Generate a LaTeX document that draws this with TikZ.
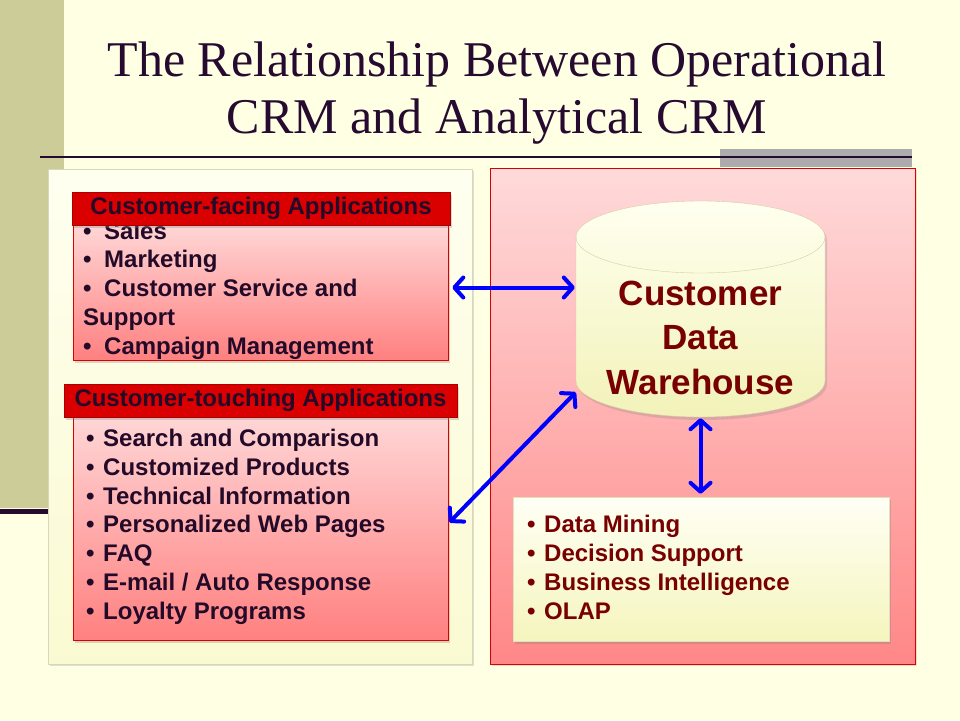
\documentclass[tikz,border=0pt]{standalone}
\usepackage{fontspec}
\setmainfont{Liberation Sans}
\newfontfamily\titlefont{Liberation Serif}
\usetikzlibrary{arrows.meta,shadows,calc}

\definecolor{slidebg}{RGB}{255,255,228}
\definecolor{bandgray}{RGB}{204,204,153}
\definecolor{titleink}{RGB}{38,10,48}
\definecolor{listink}{RGB}{35,10,40}
\definecolor{barred}{RGB}{218,0,0}
\definecolor{barline}{RGB}{170,0,0}
\definecolor{darkred}{RGB}{120,0,0}
\definecolor{arrowblue}{RGB}{0,0,255}
\definecolor{pinktop}{RGB}{255,214,214}
\definecolor{pinkbot}{RGB}{255,128,128}
\definecolor{paneltop}{RGB}{255,218,218}
\definecolor{panelbot}{RGB}{255,135,135}
\definecolor{creamtop}{RGB}{255,255,240}
\definecolor{creambot}{RGB}{250,250,210}
\definecolor{creamline}{RGB}{215,215,190}
\definecolor{cyltop}{RGB}{255,255,240}
\definecolor{cylbot}{RGB}{242,242,185}
\definecolor{cylline}{RGB}{215,205,165}
\definecolor{minetop}{RGB}{255,255,245}
\definecolor{minebot}{RGB}{245,245,190}
\definecolor{mineline}{RGB}{225,225,190}

\newcommand{\itm}{\makebox[17pt][l]{\textbullet}}
\newcommand{\itmw}{\makebox[21pt][l]{\textbullet}}

\begin{document}
\begin{tikzpicture}[x=1pt,y=-1pt,
  panel/.style={inner sep=0pt, minimum width=424pt, minimum height=495pt,
    drop shadow={opacity=0.25,shadow xshift=2pt,shadow yshift=-2pt}},
  body/.style={inner sep=0pt, minimum width=375pt, draw=barred, line width=0.6pt,
    top color=pinktop, bottom color=pinkbot,
    drop shadow={opacity=0.3,shadow xshift=2pt,shadow yshift=-3pt}},
  bar/.style={inner sep=0pt, minimum height=33pt, fill=barred, draw=barline,
    text=listink, font=\bfseries\fontsize{24}{28}\selectfont,
    drop shadow={opacity=0.3,shadow xshift=2pt,shadow yshift=-3pt}},
  items/.style={anchor=base west, align=left, inner sep=0pt, text=listink,
    font=\bfseries\fontsize{24}{28.7}\selectfont},
  link/.style={draw=arrowblue, line width=4pt, line join=round,
    {Straight Barb[length=9pt,width=20pt,round]}-{Straight Barb[length=9pt,width=20pt,round]}}
]
\useasboundingbox (0,0) rectangle (960,720);
\fill[slidebg] (0,0) rectangle (960,720);

% left band and title
\fill[bandgray] (0,0) rectangle (64,508);
\draw[titleink, line width=4.5pt] (0,511.5) -- (48,511.5);
\node[anchor=base, align=center, text=titleink, inner sep=0pt,
  font=\titlefont\fontsize{50}{57}\selectfont] (title) at (497,133)
  {The Relationship Between Operational\\CRM and Analytical CRM};
\fill[gray!65] (720,149) rectangle (912,167);
\draw[titleink, line width=2.5pt] (40,157) -- (912,157);

% the two panels
\node[panel, draw=creamline, top color=creamtop, bottom color=creambot] (apps) at (260,416.5) {};
\node[panel, minimum width=425pt, minimum height=496pt, draw=barred,
  top color=paneltop, bottom color=panelbot] (analytic) at (702.5,416) {};

% customer-facing
\node[body, minimum height=135pt] (facebody) at (260.5,292.5) {};
\node[items] (facelist) at (83,354)
  {\itmw Sales\\\itmw Marketing\\\itmw Customer Service and\\Support\\\itmw Campaign Management};
\node[bar, minimum width=378pt] (facebar) at (261,208.5) {Customer-facing Applications};

% customer-touching
\node[body, minimum height=223pt] (touchbody) at (260.5,528.5) {};
\node[items] (touchlist) at (86,619)
  {\itm Search and Comparison\\\itm Customized Products\\\itm Technical Information\\
   \itm Personalized Web Pages\\\itm FAQ\\\itm E-mail / Auto Response\\\itm Loyalty Programs};
\node[bar, minimum width=393pt] (touchbar) at (260.5,400.5) {Customer-touching Applications};

% warehouse
\node[inner sep=0pt, minimum width=249pt, minimum height=216pt] (dwh) at (700.5,309) {};
\draw[draw=cylline, top color=cyltop, bottom color=cylbot,
  drop shadow={opacity=0.25,shadow xshift=2pt,shadow yshift=-3pt}]
  (576,237) -- (576,381) arc (180:0:124.5 and 36) -- (825,237) arc (0:-180:124.5 and 36) -- cycle;
\draw[cylline] (576,237) arc (180:0:124.5 and 36);
\node[align=center, text=darkred, font=\bfseries\fontsize{35}{44.5}\selectfont] (dw) at (700.5,337.5)
  {Customer\\Data\\Warehouse};

% analysis box
\node[inner sep=0pt, minimum width=376pt, minimum height=144pt, draw=mineline,
  top color=minetop, bottom color=minebot,
  drop shadow={opacity=0.3,shadow xshift=2pt,shadow yshift=-3pt}] (minebox) at (701,569) {};
\node[items, text=darkred] (minelist) at (527,619)
  {\itm Data Mining\\\itm Decision Support\\\itm Business Intelligence\\\itm OLAP};

% arrows
\draw[link] ($(facebody.east)+(4,-5)$) -- ($(facebody.east -| dwh.west)+(-1,-5)$);
\draw[link] ($(touchbody.east)+(1,-6)$) -- ($(dwh.south west)+(0,-25)$);
\draw[link] ($(dwh.south)+(0,1)$) -- ($(dwh.south |- minebox.north)+(0,-3)$);
\end{tikzpicture}
\end{document}
